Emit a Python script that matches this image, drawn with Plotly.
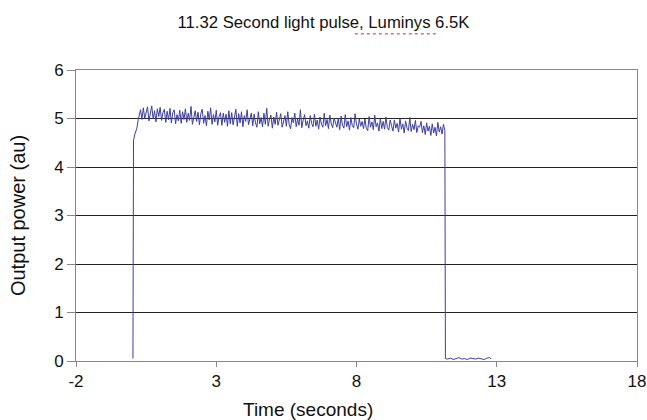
import numpy as np
import plotly.graph_objects as go

# Rising edge (seconds, au)
rise_time = [0.03, 0.05, 0.10, 0.17, 0.22, 0.26]
rise_power = [0.05, 4.55, 4.68, 4.80, 4.98, 5.12]

# Plateau samples (0.30 s .. 11.15 s, every 0.05 s)
plateau_power = [
    5.18, 4.98, 5.22, 5.00, 5.14, 5.24, 4.95, 5.10, 5.26, 4.99, 5.16, 4.93, 5.20, 5.04, 5.23, 4.96, 5.12, 5.19, 4.92, 5.15,
    4.97, 5.21, 4.91, 5.12, 5.18, 4.89, 5.08, 4.95, 5.17, 4.90, 5.14, 4.98, 5.20, 4.92, 5.11, 4.96, 5.25, 4.88, 5.06, 5.16,
    4.94, 5.13, 4.87, 5.10, 5.19, 4.90, 5.06, 4.85, 5.15, 4.97, 5.22, 4.88, 5.08, 4.93, 5.17, 4.86, 5.04, 5.12, 4.86, 5.11,
    4.92, 5.09, 4.84, 5.16, 4.89, 5.12, 4.87, 5.03, 5.19, 4.84, 5.10, 4.91, 5.14, 4.83, 5.06, 4.94, 5.18, 4.87, 5.02, 5.11,
    4.85, 5.09, 4.91, 4.82, 5.14, 4.89, 5.02, 4.83, 5.11, 4.88, 5.21, 4.84, 4.99, 5.07, 4.80, 5.03, 4.88, 5.13, 4.86, 4.99,
    5.10, 4.82, 4.96, 5.06, 4.84, 5.14, 4.87, 4.79, 5.02, 4.91, 5.11, 4.83, 4.99, 4.86, 5.18, 4.81, 4.97, 5.08, 4.85, 4.95,
    4.80, 5.06, 4.90, 4.83, 5.09, 4.84, 4.97, 4.78, 5.03, 4.88, 4.82, 5.11, 4.85, 4.98, 4.79, 5.07, 4.89, 4.81, 5.01, 4.90,
    4.82, 5.01, 4.77, 5.05, 4.86, 4.80, 5.08, 4.83, 4.95, 4.76, 5.02, 4.85, 4.81, 5.10, 4.88, 4.78, 4.99, 4.84, 4.94, 4.79,
    4.99, 4.80, 4.75, 5.04, 4.82, 4.93, 4.77, 5.07, 4.83, 4.91, 4.74, 5.00, 4.79, 4.94, 4.78, 5.03, 4.81, 4.76, 4.97, 4.85,
    4.74, 4.97, 4.80, 4.90, 4.72, 5.01, 4.78, 4.89, 4.70, 4.95, 4.80, 4.75, 5.02, 4.73, 4.88, 4.77, 4.96, 4.71, 4.85, 4.82,
    4.94, 4.71, 4.85, 4.67, 4.91, 4.74, 4.84, 4.65, 4.89, 4.70, 4.82, 4.64, 4.92, 4.72, 4.83, 4.68, 4.88, 4.75,
]
plateau_start, plateau_end = 0.30, 11.15

# Falling edge and dark tail
tail_time = [11.17, 11.25, 11.35, 11.45, 11.55, 11.65, 11.75, 11.85, 11.95, 12.05,
             12.15, 12.25, 12.35, 12.45, 12.55, 12.65, 12.75, 12.80]
tail_power = [0.05, 0.04, 0.06, 0.03, 0.05, 0.07, 0.04, 0.05, 0.03, 0.06,
              0.05, 0.04, 0.06, 0.05, 0.03, 0.06, 0.07, 0.04]

x_ticks = [-2, 3, 8, 13, 18]
y_ticks = [0, 1, 2, 3, 4, 5, 6]

plateau_time = list(np.linspace(plateau_start, plateau_end, len(plateau_power)))
t = rise_time + plateau_time + tail_time
p = rise_power + plateau_power + tail_power

fig = go.Figure()
fig.add_trace(go.Scatter(x=t, y=p, mode="lines",
                         line=dict(color="#3d3da3", width=1), showlegend=False))

font = "Liberation Sans, Arial, sans-serif"
fig.update_layout(
    width=647, height=420,
    margin=dict(l=76, r=10, t=70, b=59),
    paper_bgcolor="white", plot_bgcolor="white",
    font=dict(family=font, color="#111"),
    title=dict(
        text="11.32 Second light pulse, Luminys 6.5K",
        x=0.5, xanchor="center", y=1 - 22 / 420, yanchor="middle",
        font=dict(size=16.7, family=font, color="#111")),
    xaxis=dict(
        range=[-2, 18], tickmode="array", tickvals=x_ticks,
        ticktext=[str(v) for v in x_ticks],
        showgrid=False, zeroline=False, automargin=False,
        ticklabeloverflow="allow",
        showline=True, linecolor="#888", linewidth=1, mirror=True,
        ticks="outside", ticklen=5, tickcolor="#888",
        tickfont=dict(size=17, family=font, color="#111"),
    ),
    yaxis=dict(
        range=[0, 6], tickmode="array", tickvals=y_ticks,
        showgrid=True, gridcolor="#222", gridwidth=1, zeroline=False, automargin=False,
        showline=True, linecolor="#888", linewidth=1, mirror=True,
        ticks="outside", ticklen=8, tickcolor="#888",
        tickfont=dict(size=17, family=font, color="#111"),
        title=dict(text="Output power (au)", font=dict(size=20, family=font, color="#111"), standoff=23),
    ),
    annotations=[dict(
        text="Time (seconds)", xref="paper", yref="paper", x=0.414, y=-0.168,
        xanchor="center", yanchor="middle", showarrow=False,
        font=dict(size=19, family=font, color="#111"))],
    shapes=[dict(
        type="line", xref="paper", yref="paper", x0=0.497, x1=0.643, y0=1.125, y1=1.125,
        line=dict(color="#e07070", width=1.5, dash="dot"))],
)

fig.write_html("out.html", config={"displayModeBar": False},
               post_script="document.body.style.margin='0';")
